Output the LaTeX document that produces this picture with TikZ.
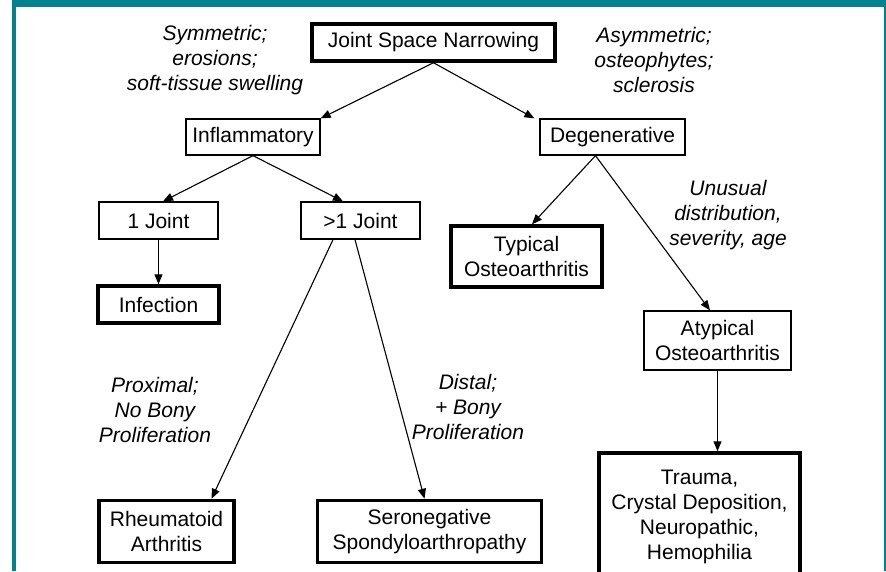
\documentclass[tikz,border=0pt]{standalone}
\usepackage{fontspec}
\setmainfont{Liberation Sans}
\usetikzlibrary{arrows.meta}
\definecolor{frameteal}{RGB}{0,131,143}
\begin{document}
\begin{tikzpicture}[x=1pt,y=-1pt,
  basebox/.style={draw=black, inner sep=0pt, align=center, fill=white,
    font=\fontsize{21}{25}\selectfont},
  thinbox/.style={basebox, line width=1.3pt},
  thickbox/.style={basebox, line width=3.5pt},
  lab/.style={align=center, inner sep=0pt, font=\fontsize{21}{25}\selectfont\itshape},
  arr/.style={draw=black, line width=1.1pt, -{Triangle[length=10pt,width=8pt]}}]
\useasboundingbox (0,0) rectangle (886,571);
\clip (0,0) rectangle (886,571);
\fill[white] (0,0) rectangle (886,571);
% frame
\fill[frameteal] (12,0) rectangle (886,7);
\fill[frameteal] (12,0) rectangle (16,571);
\fill[frameteal] (883.5,0) rectangle (886,571);
% boxes
\node[thickbox, minimum width=243pt, minimum height=37pt] (jsn) at (433.5,42.5) {Joint Space Narrowing};
\node[thinbox, minimum width=134pt, minimum height=36pt] (infl) at (253,137) {Inflammatory};
\node[thinbox, minimum width=145pt, minimum height=36pt] (deg) at (612.5,137) {Degenerative};
\node[thinbox, minimum width=119pt, minimum height=37pt] (j1) at (158.5,220.5) {1 Joint};
\node[thinbox, minimum width=119pt, minimum height=37pt] (jm) at (360.5,220.5) {>1 Joint};
\node[thickbox, minimum width=121pt, minimum height=37pt] (inf) at (158.5,304.5) {Infection};
\node[thickbox, minimum width=151pt, minimum height=61pt] (typ) at (526.5,256.5) {Typical\\Osteoarthritis};
\node[thinbox, minimum width=147pt, minimum height=59pt] (atyp) at (717.5,340.5) {Atypical\\Osteoarthritis};
\node[thickbox, minimum width=135pt, minimum height=62pt] (ra) at (166.5,531.5) {Rheumatoid\\Arthritis};
\node[thickbox, minimum width=224pt, minimum height=62pt] (sero) at (429.5,531.5) {Seronegative\\Spondyloarthropathy};
\node[thickbox, minimum width=201pt, minimum height=127pt] (trauma) at (699.5,516.5) {Trauma,\\Crystal Deposition,\\Neuropathic,\\Hemophilia};
% labels
\node[lab] (lsym) at (215,60) {Symmetric;\\erosions;\\soft-tissue swelling};
\node[lab] (lasym) at (654,60) {Asymmetric;\\osteophytes;\\sclerosis};
\node[lab] (lunus) at (728,215) {Unusual\\distribution,\\severity, age};
\node[lab] (lprox) at (155,410) {Proximal;\\No Bony\\Proliferation};
\node[lab] (ldist) at (468,407) {Distal;\\+ Bony\\Proliferation};
% connectors
\draw[arr] (jsn.south) -- (infl.north east);
\draw[arr] (jsn.south) -- ([xshift=-5pt]deg.north west);
\draw[arr] (infl.south) -- ([xshift=4.5pt]j1.north);
\draw[arr] (infl.south) -- ([xshift=-17.5pt]jm.north);
\draw[arr] (j1.south) -- (inf.north);
\draw[arr] ([xshift=-27.5pt]jm.south) -- ([xshift=45pt]ra.north);
\draw[arr] ([xshift=-5.5pt]jm.south) -- ([xshift=-5pt]sero.north);
\draw[arr] ([xshift=-17pt]deg.south) -- ([xshift=5.5pt]typ.north);
\draw[arr] ([xshift=-17pt]deg.south) -- ([xshift=-7.5pt]atyp.north);
\draw[arr] (atyp.south) -- (atyp.south |- trauma.north);
\end{tikzpicture}
\end{document}
